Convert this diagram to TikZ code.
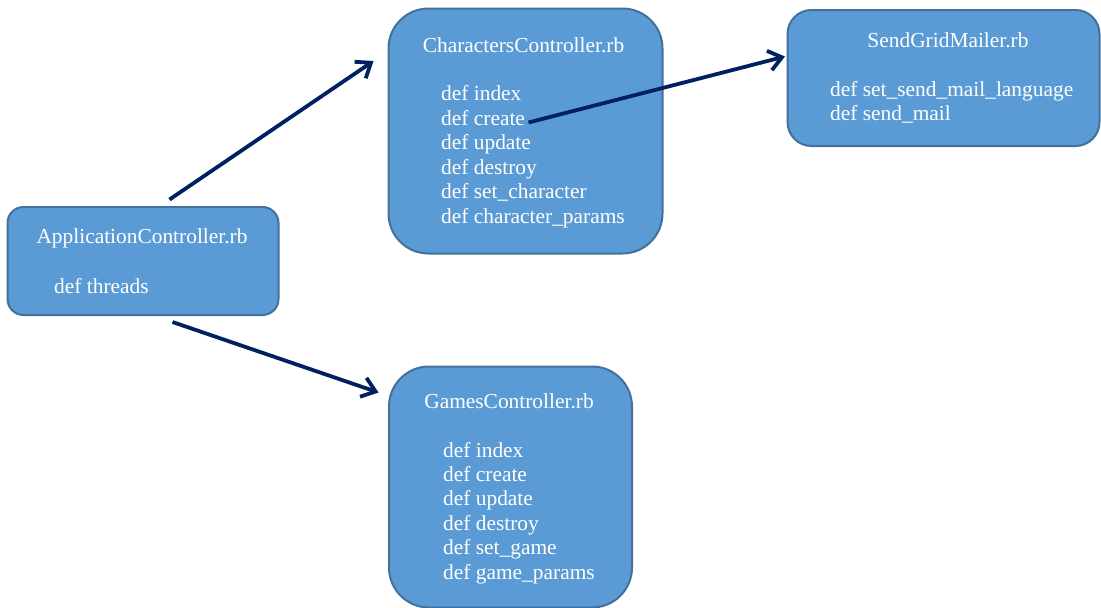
\documentclass[tikz,border=0pt]{standalone}
\usepackage{fontspec}
\setmainfont{Liberation Serif}
\usetikzlibrary{arrows.meta}
\definecolor{boxfill}{HTML}{5B9BD5}
\definecolor{boxline}{HTML}{41719C}
\definecolor{linknavy}{HTML}{002060}
\begin{document}
\begin{tikzpicture}[x=1pt,y=-1pt,
  classbox/.style={draw=boxline, fill=boxfill, line width=2pt,
    rounded corners=#1, inner sep=0pt, anchor=north west},
  boxtext/.style={text=white, font=\fontsize{21.4}{24.5}\selectfont, inner sep=0pt},
  link/.style={draw=linknavy, line width=3.8pt,
    -{Straight Barb[length=13pt,width=20pt,line width=3.8pt]}}]
\useasboundingbox (0,0) rectangle (1101,608);

% class boxes
\node[classbox=16pt, minimum width=271pt, minimum height=108pt] (app) at (6.5,206) {};
\node[classbox=40pt, minimum width=274pt, minimum height=245pt] (chars) at (387.5,7.5) {};
\node[classbox=24pt, minimum width=312pt, minimum height=136pt] (mailer) at (786.5,9) {};
\node[classbox=40pt, minimum width=243pt, minimum height=241pt] (games) at (388,365.5) {};

% ApplicationController.rb
\node[boxtext, anchor=base] (app-title) at (142,243) {ApplicationController.rb};
\node[boxtext, anchor=base west] (app-1) at (54,293) {def threads};

% CharactersController.rb
\node[boxtext, anchor=base] (chars-title) at (523.5,52) {CharactersController.rb};
\foreach \t [count=\i] in {def index, def create, def update, def destroy,
    def set\_character, def character\_params}
  \node[boxtext, anchor=base west] (chars-\i) at (441,{100.5+24.5*(\i-1)}) {\t};

% SendGridMailer.rb
\node[boxtext, anchor=base] (mailer-title) at (948,47) {SendGridMailer.rb};
\foreach \t [count=\i] in {def set\_send\_mail\_language, def send\_mail}
  \node[boxtext, anchor=base west] (mailer-\i) at (830,{96+24.5*(\i-1)}) {\t};

% GamesController.rb
\node[boxtext, anchor=base] (games-title) at (509,408.5) {GamesController.rb};
\foreach \t [count=\i] in {def index, def create, def update, def destroy,
    def set\_game, def game\_params}
  \node[boxtext, anchor=base west] (games-\i) at (443,{457+24.4*(\i-1)}) {\t};

% connector ends
\coordinate (toChars-s) at (169.5,199.5);
\coordinate (toChars-e) at (373.5,61);
\coordinate (toGames-s) at (172.5,322);
\coordinate (toGames-e) at (378.5,392.5);
\coordinate (toMailer-s) at (528.5,122.5);
\coordinate (toMailer-e) at (785,56.5);

\draw[link] (toChars-s) -- (toChars-e);
\draw[link] (toGames-s) -- (toGames-e);
\draw[link] (toMailer-s) -- (toMailer-e);
\end{tikzpicture}
\end{document}
